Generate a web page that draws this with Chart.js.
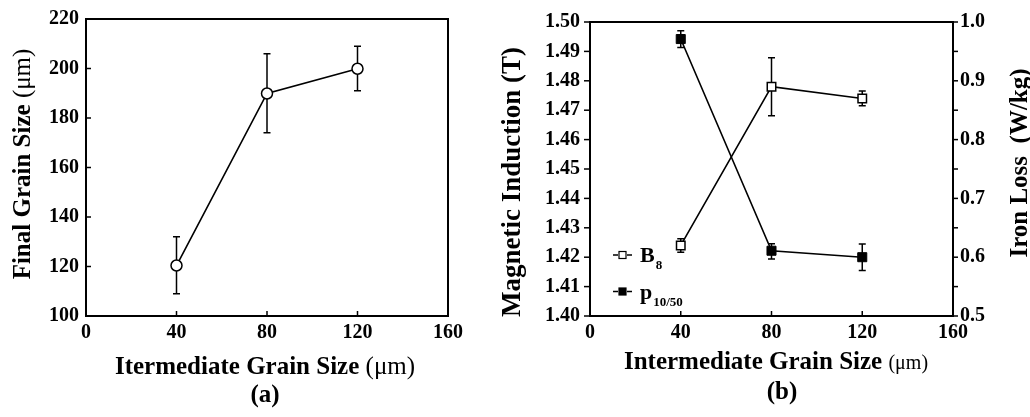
<!DOCTYPE html>
<html><head><meta charset="utf-8">
<script src="https://cdn.jsdelivr.net/npm/chart.js@4.4.1/dist/chart.umd.min.js"></script>
<style>
html,body{margin:0;padding:0;background:#fff;width:1030px;height:417px;overflow:hidden}
#ca{position:absolute;left:0;top:0}
#cb{position:absolute;left:480px;top:0}
</style></head><body>
<canvas id="ca" width="480" height="417"></canvas>
<canvas id="cb" width="550" height="417"></canvas>
<script>
// ---- data ----
const interGrain = [40, 80, 120];
const finalGrain = [120.4, 189.9, 199.9];
const finalGrainLow = [109, 174, 191];
const finalGrainHigh = [132, 206, 209];

const b8 = [1.424, 1.478, 1.474];
const b8Low = [1.4217, 1.4681, 1.4715];
const b8High = [1.4263, 1.4878, 1.4765];

const p1050 = [0.971, 0.611, 0.600];
const p1050Low = [0.9565, 0.597, 0.5775];
const p1050High = [0.985, 0.623, 0.6225];

const xTicks = [0, 40, 80, 120, 160];
const finalTicks = [100, 120, 140, 160, 180, 200, 220];
const inductionTicks = [1.40, 1.41, 1.42, 1.43, 1.44, 1.45, 1.46, 1.47, 1.48, 1.49, 1.50];
const lossTicks = [0.5, 0.6, 0.7, 0.8, 0.9, 1.0];
const lossMinorTicks = [0.55, 0.65, 0.75, 0.85, 0.95];

const legendMain = ['B', 'p'];
const legendSub = ['8', '10/50'];

// ---- helpers ----
const SERIF = '"Liberation Serif","Times New Roman",serif';
const TICK_FONT = {family: SERIF, size: 20, weight: 'bold'};

function drawRich(ctx, segs, x, y, rot) {
  ctx.save();
  ctx.translate(x, y);
  if (rot) ctx.rotate(-Math.PI / 2);
  let total = 0;
  segs.forEach(s => { ctx.font = s.font; s.w = ctx.measureText(s.text).width; total += s.w; });
  let cx = -total / 2;
  ctx.fillStyle = '#000';
  ctx.textBaseline = 'alphabetic';
  ctx.textAlign = 'left';
  segs.forEach(s => { ctx.font = s.font; ctx.fillText(s.text, cx, s.dy || 0); cx += s.w; });
  ctx.restore();
}
function fixedTicks(arr) { return s => { s.ticks = arr.map(v => ({value: v})); }; }

function decorPlugin(cfg) {
  return {
    id: 'decor',
    beforeDatasetsDraw(chart) {
      const ctx = chart.ctx;
      ctx.save();
      ctx.strokeStyle = '#000';
      ctx.lineWidth = 1.5;
      cfg.errors.forEach(e => {
        const xs = chart.scales.x, ys = chart.scales[e.axis];
        e.xs.forEach((xv, i) => {
          const px = xs.getPixelForValue(xv);
          const lo = ys.getPixelForValue(e.lows[i]);
          const hi = ys.getPixelForValue(e.highs[i]);
          ctx.beginPath();
          ctx.moveTo(px, lo); ctx.lineTo(px, hi);
          ctx.moveTo(px - 3.5, lo); ctx.lineTo(px + 3.5, lo);
          ctx.moveTo(px - 3.5, hi); ctx.lineTo(px + 3.5, hi);
          ctx.stroke();
        });
      });
      ctx.restore();
    },
    afterDraw(chart) {
      const ctx = chart.ctx, a = chart.chartArea;
      ctx.save();
      ctx.strokeStyle = '#000';
      ctx.lineWidth = 2;
      ctx.strokeRect(a.left, a.top, a.right - a.left, a.bottom - a.top);
      ctx.lineWidth = 1.5;
      cfg.tickMarks.forEach(t => {
        const s = chart.scales[t.axis];
        t.values.forEach(v => {
          const p = s.getPixelForValue(v);
          ctx.beginPath();
          if (t.side === 'bottom') { ctx.moveTo(p, a.bottom); ctx.lineTo(p, a.bottom + t.len); }
          else if (t.side === 'left') { ctx.moveTo(a.left, p); ctx.lineTo(a.left + t.len, p); }
          else if (t.side === 'right') { ctx.moveTo(a.right, p); ctx.lineTo(a.right + t.len, p); }
          ctx.stroke();
        });
      });
      ctx.restore();
      cfg.texts.forEach(t => drawRich(ctx, t.segs, t.x, t.y, t.rot));
      if (cfg.legend) cfg.legend(ctx);
    }
  };
}

const B = n => 'bold ' + n + 'px ' + SERIF;
const R = n => n + 'px ' + SERIF;

// ---- chart (a) ----
new Chart(document.getElementById('ca'), {
  type: 'line',
  data: {
    datasets: [{
      label: 'Final Grain Size',
      data: interGrain.map((x, i) => ({x: x, y: finalGrain[i]})),
      borderColor: '#000', borderWidth: 1.6,
      pointStyle: 'circle', pointRadius: 5.5,
      pointBackgroundColor: '#fff', pointBorderColor: '#000', pointBorderWidth: 1.5
    }]
  },
  options: {
    responsive: false, animation: false, devicePixelRatio: 1,
    layout: {padding: {top: 19, right: 32, left: 0, bottom: 0}},
    plugins: {legend: {display: false}, tooltip: {enabled: false}},
    scales: {
      x: {
        type: 'linear', min: 0, max: 160,
        afterBuildTicks: fixedTicks(xTicks),
        afterFit: s => { s.height = 101; },
        grid: {display: false, drawTicks: false}, border: {display: false},
        ticks: {font: TICK_FONT, color: '#000', padding: 5, maxRotation: 0}
      },
      y: {
        type: 'linear', min: 100, max: 220,
        afterBuildTicks: fixedTicks(finalTicks),
        afterFit: s => { s.width = 86; },
        grid: {display: false, drawTicks: false}, border: {display: false},
        ticks: {font: TICK_FONT, color: '#000', padding: 7}
      }
    }
  },
  plugins: [decorPlugin({
    errors: [{xs: interGrain, lows: finalGrainLow, highs: finalGrainHigh, axis: 'y'}],
    tickMarks: [
      {axis: 'x', side: 'bottom', len: -5, values: xTicks},
      {axis: 'y', side: 'left', len: 5, values: finalTicks}
    ],
    texts: [
      {segs: [{text: 'Itermediate Grain Size ', font: B(25)}, {text: '(\u03bcm)', font: R(25)}], x: 265, y: 374},
      {segs: [{text: '(a)', font: B(25)}], x: 265, y: 402},
      {segs: [{text: 'Final Grain Size ', font: B(25)}, {text: '(\u03bcm)', font: R(25)}], x: 30, y: 164, rot: true}
    ]
  })]
});

// ---- chart (b) ----
new Chart(document.getElementById('cb'), {
  type: 'line',
  data: {
    datasets: [{
      label: 'B8', yAxisID: 'y',
      data: interGrain.map((x, i) => ({x: x, y: b8[i]})),
      borderColor: '#000', borderWidth: 1.6,
      pointStyle: 'rect', pointRadius: 6,
      pointBackgroundColor: '#fff', pointBorderColor: '#000', pointBorderWidth: 1.5
    }, {
      label: 'p10/50', yAxisID: 'y2',
      data: interGrain.map((x, i) => ({x: x, y: p1050[i]})),
      borderColor: '#000', borderWidth: 1.6,
      pointStyle: 'rect', pointRadius: 6.4,
      pointBackgroundColor: '#000', pointBorderColor: '#000', pointBorderWidth: 1
    }]
  },
  options: {
    responsive: false, animation: false, devicePixelRatio: 1,
    layout: {padding: {top: 20, right: 0, left: 0, bottom: 0}},
    plugins: {legend: {display: false}, tooltip: {enabled: false}},
    scales: {
      x: {
        type: 'linear', min: 0, max: 160,
        afterBuildTicks: fixedTicks(xTicks),
        afterFit: s => { s.height = 101; },
        grid: {display: false, drawTicks: false}, border: {display: false},
        ticks: {font: TICK_FONT, color: '#000', padding: 5, maxRotation: 0}
      },
      y: {
        type: 'linear', position: 'left', min: 1.40, max: 1.50,
        afterBuildTicks: fixedTicks(inductionTicks),
        afterFit: s => { s.width = 110; },
        grid: {display: false, drawTicks: false}, border: {display: false},
        ticks: {font: TICK_FONT, color: '#000', padding: 10, callback: v => v.toFixed(2)}
      },
      y2: {
        type: 'linear', position: 'right', min: 0.5, max: 1.0,
        afterBuildTicks: fixedTicks(lossTicks),
        afterFit: s => { s.width = 77; },
        grid: {display: false, drawTicks: false}, border: {display: false},
        ticks: {font: TICK_FONT, color: '#000', padding: 7, callback: v => v.toFixed(1)}
      }
    }
  },
  plugins: [decorPlugin({
    errors: [
      {xs: interGrain, lows: b8Low, highs: b8High, axis: 'y'},
      {xs: interGrain, lows: p1050Low, highs: p1050High, axis: 'y2'}
    ],
    tickMarks: [
      {axis: 'x', side: 'bottom', len: -5, values: xTicks},
      {axis: 'y', side: 'left', len: -6, values: inductionTicks},
      {axis: 'y2', side: 'right', len: 5, values: lossTicks},
      {axis: 'y2', side: 'right', len: 5, values: lossMinorTicks}
    ],
    texts: [
      {segs: [{text: 'Intermediate Grain Size ', font: B(25)}, {text: '(\u03bcm)', font: R(20)}], x: 296, y: 369},
      {segs: [{text: '(b)', font: B(25)}], x: 302, y: 399},
      {segs: [{text: 'Magnetic Induction (T)', font: B(27)}], x: 40, y: 182, rot: true},
      {segs: [{text: 'Iron Loss  (W/kg)', font: B(25)}], x: 547, y: 163, rot: true}
    ],
    legend: function (ctx) {
      const rowsY = [255, 291.5];
      const fills = ['#fff', '#000'];
      ctx.save();
      rowsY.forEach((y, i) => {
        ctx.strokeStyle = '#000';
        ctx.lineWidth = 1.5;
        ctx.beginPath();
        ctx.moveTo(133, y); ctx.lineTo(138, y);
        ctx.moveTo(147, y); ctx.lineTo(152, y);
        ctx.stroke();
        ctx.fillStyle = fills[i];
        ctx.fillRect(139, y - 3.5, 7, 7);
        ctx.lineWidth = 1.2;
        ctx.strokeRect(139, y - 3.5, 7, 7);
        ctx.fillStyle = '#000';
        ctx.textBaseline = 'alphabetic';
        ctx.font = B(22);
        ctx.fillText(legendMain[i], 160, y + 7);
        const w = ctx.measureText(legendMain[i]).width;
        ctx.font = B(13);
        ctx.fillText(legendSub[i], 160 + w + 1, y + 14);
      });
      ctx.restore();
    }
  })]
});
</script>
</body></html>
